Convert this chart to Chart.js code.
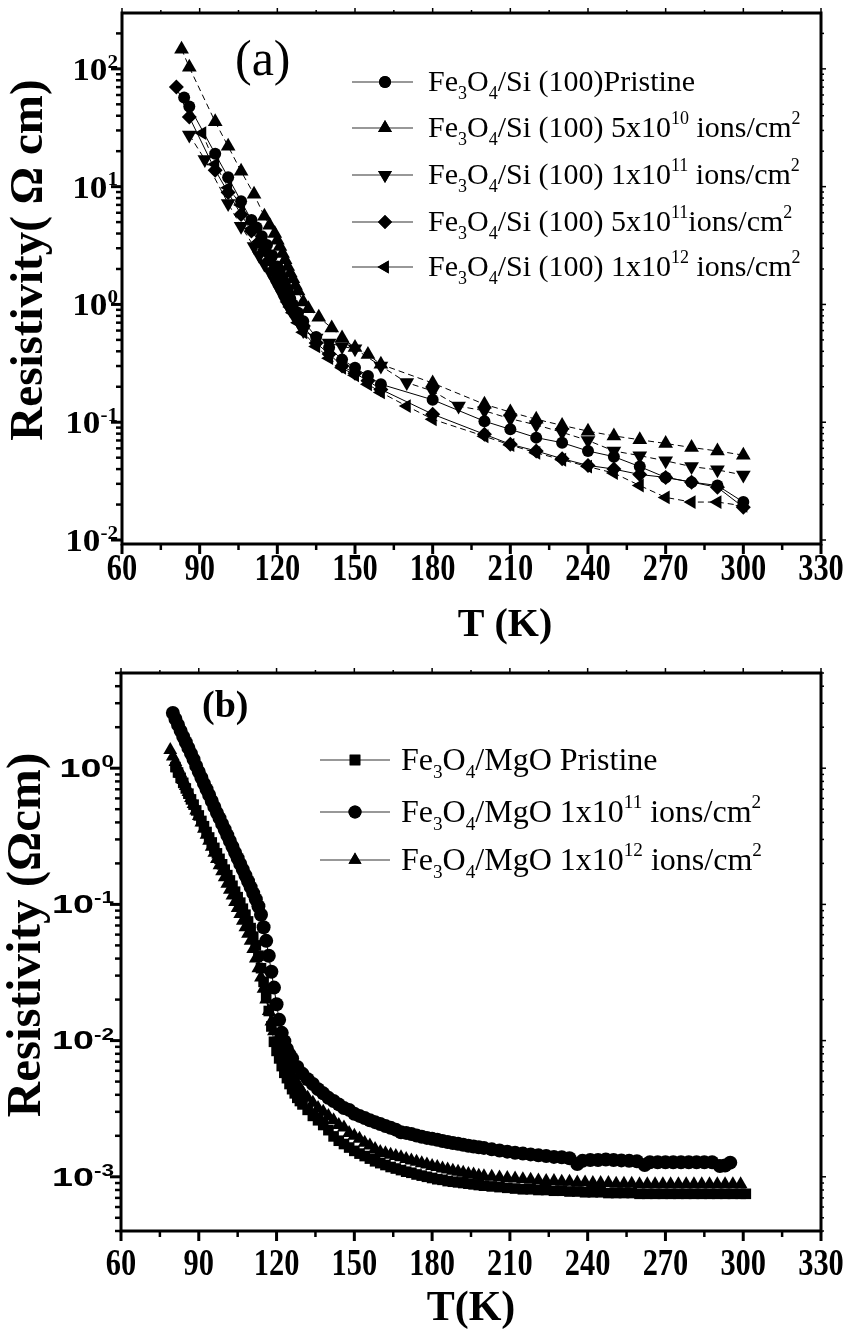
<!DOCTYPE html>
<html>
<head>
<meta charset="utf-8">
<script src="https://cdn.jsdelivr.net/npm/chart.js@4.4.0/dist/chart.umd.min.js"></script>
<style>
  html, body { margin: 0; padding: 0; background: #fff; }
  #wrap { position: relative; width: 845px; height: 1332px; }
  canvas { position: absolute; left: 0; }
</style>
</head>
<body>
<div id="wrap">
  <canvas id="chartA" width="845" height="660" style="top:0;width:845px;height:660px"></canvas>
  <canvas id="chartB" width="845" height="672" style="top:660px;width:845px;height:672px"></canvas>
</div>
<script>
// ---- panel (a): Fe3O4/Si (100), [T (K), resistivity (ohm cm)] ----
const siPristine = [[84,57],[86,48],[96,19],[101,12],[106,7.5],[110,5.2],[112,4.5],[114,3.8],[116,3.2],[118,2.6],[120,2.1],[121,1.85],[122,1.65],[123,1.45],[124,1.28],[125,1.12],[126,1.0],[128,0.85],[130,0.72],[135,0.53],[140,0.43],[145,0.34],[150,0.29],[155,0.247],[160,0.21],[180,0.155],[200,0.102],[210,0.087],[220,0.074],[230,0.067],[240,0.057],[250,0.051],[260,0.042],[270,0.034],[280,0.031],[290,0.029],[300,0.021]];
const si5e10 = [[83,147],[86,103],[96,35.5],[101,22],[106,13.5],[111,8.6],[115,5.6],[117,4.7],[119,4.0],[120,3.5],[121,3.1],[122,2.7],[123,2.4],[124,2.1],[125,1.85],[126,1.65],[127,1.45],[128,1.3],[130,1.05],[132,0.92],[136,0.78],[141,0.63],[145,0.52],[150,0.43],[155,0.375],[160,0.31],[180,0.215],[200,0.142],[210,0.122],[220,0.106],[230,0.094],[240,0.084],[250,0.0765],[260,0.071],[270,0.066],[280,0.061],[290,0.057],[300,0.0525]];
const si1e11 = [[86,27.5],[92,17],[101,7.2],[106,4.6],[111,3.1],[113,2.6],[115,2.2],[117,1.9],[119,1.6],[120,1.45],[121,1.32],[122,1.2],[123,1.08],[124,0.98],[125,0.9],[126,0.83],[128,0.72],[130,0.6],[135,0.52],[140,0.47],[145,0.44],[150,0.42],[160,0.30],[170,0.217],[180,0.184],[190,0.137],[200,0.125],[210,0.107],[220,0.095],[230,0.082],[240,0.07],[250,0.057],[260,0.052],[270,0.047],[280,0.042],[290,0.0394],[300,0.0356]];
const si5e11 = [[81,70],[86,39],[96,13.8],[101,8.9],[106,5.8],[110,4.2],[113,3.4],[115,2.9],[117,2.4],[119,2.0],[120,1.8],[121,1.6],[122,1.45],[123,1.3],[124,1.15],[125,1.02],[126,0.92],[128,0.78],[130,0.66],[135,0.47],[140,0.38],[145,0.30],[150,0.26],[155,0.225],[160,0.19],[180,0.117],[200,0.079],[210,0.065],[220,0.057],[230,0.049],[240,0.043],[250,0.040],[260,0.036],[270,0.034],[280,0.031],[290,0.028],[300,0.019]];
const si1e12 = [[91,28.5],[96,15.5],[101,9.8],[106,7.0],[110,4.4],[113,3.4],[115,2.8],[117,2.3],[119,1.9],[120,1.7],[121,1.5],[122,1.35],[123,1.2],[124,1.05],[125,0.95],[126,0.85],[128,0.7],[130,0.58],[135,0.44],[140,0.35],[145,0.29],[150,0.25],[155,0.21],[160,0.179],[170,0.137],[180,0.106],[200,0.076],[210,0.064],[220,0.055],[230,0.048],[240,0.042],[250,0.037],[260,0.029],[270,0.023],[280,0.021],[290,0.021],[300,0.0195]];

// ---- panel (b): Fe3O4/MgO ----
const mgoPristine = [[81,1.02],[82,0.93],[83,0.85],[84,0.78],[85,0.71],[86,0.65],[87,0.59],[88,0.54],[89,0.49],[90,0.45],[91,0.41],[92,0.375],[93,0.34],[94,0.31],[95,0.285],[96,0.26],[97,0.237],[98,0.216],[99,0.197],[100,0.18],[101,0.164],[102,0.15],[103,0.137],[104,0.124],[105,0.113],[106,0.103],[107,0.093],[108,0.084],[109,0.075],[110,0.067],[111,0.058],[112,0.05],[113,0.042],[114,0.034],[115,0.027],[116,0.021],[117,0.0165],[118,0.0127],[119,0.0098],[120,0.0084],[121,0.0074],[122,0.0065],[123,0.0058],[124,0.0053],[125,0.0048],[126,0.0044],[127,0.0041],[128,0.0038],[129,0.0036],[130,0.0034],[132,0.0031],[134,0.0028],[136,0.0026],[138,0.0024],[140,0.0022],[142,0.00198],[144,0.00184],[146,0.00174],[148,0.00164],[150,0.00155],[152,0.00148],[154,0.00142],[156,0.00136],[158,0.0013],[160,0.00126],[162,0.00122],[164,0.00118],[166,0.00115],[168,0.00112],[170,0.00109],[172,0.00107],[174,0.00104],[176,0.00102],[178,0.001],[180,0.00098],[182,0.00096],[184,0.00095],[186,0.00093],[188,0.00092],[190,0.00091],[192,0.0009],[194,0.00089],[196,0.00088],[198,0.00087],[200,0.00086],[203,0.00085],[206,0.00084],[209,0.00083],[212,0.00082],[215,0.00081],[218,0.00081],[221,0.0008],[224,0.0008],[227,0.00079],[230,0.00079],[233,0.00078],[236,0.00078],[239,0.00077],[242,0.00077],[245,0.00077],[248,0.00076],[251,0.00076],[254,0.00076],[257,0.00076],[260,0.00075],[263,0.00075],[266,0.00075],[269,0.00075],[272,0.00075],[275,0.00075],[278,0.00075],[281,0.00075],[284,0.00075],[287,0.00075],[290,0.00075],[293,0.00075],[296,0.00075],[299,0.00075],[301,0.00075]];
const mgo1e11 = [[80,2.54],[81,2.3],[82,2.08],[83,1.88],[84,1.7],[85,1.55],[86,1.41],[87,1.28],[88,1.16],[89,1.04],[90,0.94],[91,0.85],[92,0.77],[93,0.7],[94,0.635],[95,0.575],[96,0.52],[97,0.47],[98,0.43],[99,0.39],[100,0.355],[101,0.322],[102,0.292],[103,0.265],[104,0.24],[105,0.218],[106,0.198],[107,0.18],[108,0.163],[109,0.148],[110,0.134],[111,0.121],[112,0.109],[113,0.097],[114,0.084],[115,0.068],[116,0.054],[117,0.042],[118,0.032],[119,0.0245],[120,0.0185],[121,0.0142],[122,0.0114],[123,0.0099],[124,0.0087],[125,0.0079],[126,0.0074],[128,0.0064],[130,0.0057],[132,0.0052],[134,0.0048],[136,0.0044],[138,0.0041],[140,0.0038],[142,0.0036],[144,0.0034],[146,0.0032],[148,0.0031],[150,0.0029],[152,0.0028],[154,0.0027],[156,0.0026],[158,0.00252],[160,0.00244],[162,0.00236],[164,0.00229],[166,0.00222],[168,0.00212],[170,0.0021],[172,0.00206],[174,0.00201],[176,0.00197],[178,0.00193],[180,0.0019],[182,0.00187],[184,0.00183],[186,0.0018],[188,0.00177],[190,0.00175],[192,0.00172],[194,0.00169],[196,0.00167],[198,0.00165],[200,0.00163],[203,0.00159],[206,0.00156],[209,0.00153],[212,0.0015],[215,0.00148],[218,0.00146],[221,0.00144],[224,0.00142],[227,0.0014],[230,0.00139],[233,0.00137],[236,0.00124],[238,0.00131],[241,0.00133],[244,0.00133],[247,0.00134],[250,0.00133],[253,0.00132],[256,0.00131],[259,0.0013],[262,0.00122],[264,0.00128],[267,0.00128],[270,0.00128],[273,0.00128],[276,0.00128],[279,0.00128],[282,0.00128],[285,0.00128],[288,0.00128],[291,0.0012],[293,0.00121],[295,0.00127]];
const mgo1e12 = [[79,1.36],[80,1.22],[81,1.11],[82,1.0],[83,0.91],[84,0.82],[85,0.74],[86,0.67],[87,0.605],[88,0.545],[89,0.49],[90,0.445],[91,0.4],[92,0.36],[93,0.325],[94,0.293],[95,0.265],[96,0.239],[97,0.215],[98,0.194],[99,0.175],[100,0.158],[101,0.142],[102,0.128],[103,0.116],[104,0.104],[105,0.094],[106,0.085],[107,0.076],[108,0.068],[109,0.061],[110,0.054],[111,0.047],[112,0.04],[113,0.034],[114,0.029],[115,0.024],[116,0.02],[117,0.0165],[118,0.0138],[119,0.0117],[120,0.01],[121,0.0088],[122,0.0079],[123,0.0072],[124,0.0066],[125,0.006],[126,0.0056],[127,0.0051],[128,0.0048],[129,0.0045],[130,0.0042],[132,0.0038],[134,0.0035],[136,0.0032],[138,0.003],[140,0.0028],[142,0.0026],[144,0.0024],[146,0.0023],[148,0.0021],[150,0.002],[152,0.0019],[154,0.00178],[156,0.0017],[158,0.0016],[160,0.00152],[162,0.00149],[164,0.00145],[166,0.00142],[168,0.00139],[170,0.00135],[172,0.00132],[174,0.00129],[176,0.00126],[178,0.00123],[180,0.0012],[182,0.00118],[184,0.00115],[186,0.00113],[188,0.00111],[190,0.00109],[192,0.00107],[194,0.00105],[196,0.00104],[198,0.00102],[200,0.00101],[203,0.001],[206,0.00099],[209,0.00098],[212,0.00097],[215,0.00096],[218,0.00095],[221,0.00094],[224,0.00093],[227,0.00093],[230,0.00092],[233,0.00092],[236,0.00091],[239,0.00091],[242,0.0009],[245,0.0009],[248,0.0009],[251,0.00089],[254,0.00089],[257,0.00089],[260,0.00088],[263,0.00088],[266,0.00088],[269,0.00088],[272,0.00088],[275,0.00088],[278,0.00088],[281,0.00088],[284,0.00088],[287,0.00088],[290,0.00088],[293,0.00088],[296,0.00088],[299,0.00088]];

const legendA = ['Fe_{3}O_{4}/Si (100)Pristine', 'Fe_{3}O_{4}/Si (100) 5x10^{10} ions/cm^{2}', 'Fe_{3}O_{4}/Si (100) 1x10^{11} ions/cm^{2}', 'Fe_{3}O_{4}/Si (100) 5x10^{11}ions/cm^{2}', 'Fe_{3}O_{4}/Si (100) 1x10^{12} ions/cm^{2}'];
const legendB = ['Fe_{3}O_{4}/MgO Pristine', 'Fe_{3}O_{4}/MgO 1x10^{11} ions/cm^{2}', 'Fe_{3}O_{4}/MgO 1x10^{12} ions/cm^{2}'];
const xTicks = [60, 90, 120, 150, 180, 210, 240, 270, 300, 330];

const SERIF = '"Liberation Serif", "Times New Roman", serif';
const SANS = '"Liberation Sans", Arial, sans-serif';

// marker looks
const M = {
    circle: { pointStyle: 'circle', rotation: 0 },
    up: { pointStyle: 'triangle', rotation: 0 },
    down: { pointStyle: 'triangle', rotation: 180 },
    diamond: { pointStyle: 'rectRot', rotation: 0 },
    left: { pointStyle: 'triangle', rotation: 270 },
    square: { pointStyle: 'rect', rotation: 0 }
};

function toXY(rows) {
    return rows.map(r => ({ x: r[0], y: r[1] }));
}

function series(rows, mk, radius, dash) {
    return {
        data: toXY(rows),
        showLine: true,
        borderColor: '#000',
        borderWidth: 1,
        borderDash: dash || [],
        pointStyle: mk.pointStyle,
        pointRotation: mk.rotation,
        pointRadius: radius,
        pointBackgroundColor: '#000',
        pointBorderWidth: 0,
        pointBorderColor: '#000',
        clip: 8
    };
}

// "Fe_{3}O_{4}" -> pieces with sub / sup
function parseRich(s) {
    const parts = [];
    const re = /([_^])\{([^}]*)\}|([^_^]+)/g;
    let m;
    while ((m = re.exec(s))) {
        if (m[3]) parts.push({ t: m[3], k: 0 });
        else parts.push({ t: m[2], k: m[1] === '_' ? -1 : 1 });
    }
    return parts;
}

function drawRich(ctx, s, x, y, size, weight, family) {
    let cx = x;
    parseRich(s).forEach(p => {
        const fs = p.k ? size * 0.6 : size;
        const dy = p.k === -1 ? size * 0.26 : (p.k === 1 ? -size * 0.42 : 0);
        ctx.font = `${weight} ${fs}px ${family}`;
        ctx.fillText(p.t, cx, y + dy);
        cx += ctx.measureText(p.t).width;
    });
}

function marker(ctx, mk, r, x, y) {
    ctx.beginPath();
    Chart.helpers.drawPoint(ctx, { pointStyle: mk.pointStyle, rotation: mk.rotation, radius: r, borderWidth: 0 }, x, y);
    ctx.fill();
}

// frame, ticks, labels, titles and legend, drawn on top of the chart
const paperPlugin = {
    id: 'paper',
    afterDraw(chart, args, o) {
        const ctx = chart.ctx;
        const a = chart.chartArea;
        const xs = chart.scales.x;
        const ys = chart.scales.y;
        const seg = (x1, y1, x2, y2, w) => {
            ctx.lineWidth = w;
            ctx.beginPath(); ctx.moveTo(x1, y1); ctx.lineTo(x2, y2); ctx.stroke();
        };
        ctx.save();
        ctx.strokeStyle = '#000';
        ctx.fillStyle = '#000';
        ctx.lineCap = 'butt';

        // x ticks (every 15 K, labelled every 30 K)
        xs.ticks.forEach(t => {
            const px = xs.getPixelForValue(t.value);
            const major = t.value % 30 === 0;
            seg(px, a.bottom, px, a.bottom + (major ? 10 : 6), major ? 3 : 2.5);
            seg(px, a.top, px, a.top - (major ? 5 : 3), 1.5);
        });
        // y ticks (log: 1..9 x 10^n)
        ys.ticks.forEach(t => {
            const v = t.value;
            const e = Math.floor(Math.log10(v) + 1e-9);
            const sig = v / Math.pow(10, e);
            if (Math.abs(sig - Math.round(sig)) > 1e-6) return;
            const py = ys.getPixelForValue(v);
            const major = Math.round(sig) === 1;
            seg(a.left, py, a.left - (major ? 11 : 6), py, major ? 3 : 2.5);
            seg(a.right, py, a.right + (major ? 5 : 3), py, 1.5);
        });
        // frame
        ctx.lineWidth = 3;
        ctx.strokeRect(a.left, a.top, a.right - a.left, a.bottom - a.top);

        // x tick labels
        ctx.font = `bold ${o.xFont}px ${SERIF}`;
        ctx.textAlign = 'center';
        ctx.textBaseline = 'alphabetic';
        xTicks.forEach(v => {
            const px = xs.getPixelForValue(v);
            ctx.save();
            ctx.translate(px, o.xLabelY);
            ctx.scale(o.xScaleX, 1);
            ctx.fillText(String(v), 0, 0);
            ctx.restore();
        });

        // y tick labels: 10 with superscript exponent
        for (let e = o.expMin; e <= o.expMax; e++) {
            const py = ys.getPixelForValue(Math.pow(10, e));
            const ex = String(e);
            ctx.save();
            ctx.textAlign = 'left';
            ctx.font = `bold ${o.yFont * 0.6}px ${o.yFamily}`;
            const ew = ctx.measureText(ex).width * o.yScaleX;
            ctx.font = `bold ${o.yFont}px ${o.yFamily}`;
            const bw = ctx.measureText('10').width * o.yScaleX;
            const x0 = o.yLabelRight - ew - bw;
            ctx.translate(x0, py + o.yFont * 0.34);
            ctx.scale(o.yScaleX, 1);
            ctx.fillText('10', 0, 0);
            ctx.font = `bold ${o.yFont * 0.6}px ${o.yFamily}`;
            ctx.fillText(ex, bw / o.yScaleX, -o.yFont * 0.38);
            ctx.restore();
        }

        // axis titles
        ctx.textAlign = 'center';
        ctx.font = `bold ${o.xTitleFont}px ${SERIF}`;
        ctx.fillText(o.xTitle, o.xTitleX, o.xTitleY);
        ctx.save();
        ctx.translate(o.yTitleX, o.yTitleY);
        ctx.rotate(-Math.PI / 2);
        ctx.textBaseline = 'middle';
        ctx.font = `bold ${o.yTitleFont}px ${SERIF}`;
        ctx.fillText(o.yTitle, 0, 0);
        ctx.restore();

        // panel tag
        ctx.textAlign = 'left';
        ctx.font = `${o.tagWeight} ${o.tagFont}px ${SERIF}`;
        ctx.fillText(o.tag, o.tagX, o.tagY);

        // legend
        const lg = o.legend;
        lg.labels.forEach((lab, i) => {
            const y = lg.rows[i];
            ctx.strokeStyle = '#333';
            seg(lg.x1, y, lg.x2, y, 1.2);
            ctx.strokeStyle = '#000';
            marker(ctx, lg.marks[i], lg.radius[i], lg.mx, y);
            drawRich(ctx, lab, lg.tx, y + lg.font * 0.3, lg.font, 'normal', SERIF);
        });
        ctx.restore();
    }
};

function makeChart(id, datasets, yMin, yMax, xHeight, yWidth, paper) {
    return new Chart(document.getElementById(id), {
        type: 'scatter',
        data: { datasets: datasets },
        options: {
            responsive: false,
            animation: false,
            events: [],
            layout: { padding: { left: 0, right: 24, top: 13, bottom: 0 } },
            plugins: { legend: { display: false }, tooltip: { enabled: false }, paper: paper },
            scales: {
                x: {
                    type: 'linear', min: 60, max: 330,
                    ticks: { stepSize: 15, display: false },
                    grid: { display: false }, border: { display: false },
                    afterFit: s => { s.height = xHeight; }
                },
                y: {
                    type: 'logarithmic', min: yMin, max: yMax,
                    ticks: { display: false },
                    grid: { display: false }, border: { display: false },
                    afterFit: s => { s.width = yWidth; }
                }
            }
        },
        plugins: [paperPlugin]
    });
}

makeChart('chartA', [
    series(siPristine, M.circle, 6),
    series(si5e10, M.up, 8.5, [6, 4]),
    series(si1e11, M.down, 8.5, [6, 4]),
    series(si5e11, M.diamond, 7.5),
    series(si1e12, M.left, 8, [6, 4])
], 0.00925, 298, 116, 122, {
    xFont: 38, xScaleX: 0.8, xLabelY: 580,
    yFont: 32, yScaleX: 1.1, yFamily: SERIF, yLabelRight: 118, expMin: -2, expMax: 2,
    xTitle: 'T (K)', xTitleFont: 40, xTitleX: 505, xTitleY: 636,
    yTitle: 'Resistivity( \u03A9 cm)', yTitleFont: 47, yTitleX: 30, yTitleY: 260,
    tag: '(a)', tagFont: 50, tagWeight: 'normal', tagX: 235, tagY: 75,
    legend: {
        labels: legendA, rows: [82, 128, 175, 222, 267], x1: 352, x2: 413, mx: 385, tx: 428, font: 30,
        marks: [M.circle, M.up, M.down, M.diamond, M.left], radius: [6, 8, 8, 7, 7.5]
    }
});

makeChart('chartB', [
    series(mgoPristine, M.square, 7.5),
    series(mgo1e11, M.circle, 7),
    series(mgo1e12, M.up, 8)
], 0.0004, 5.0, 101, 121, {
    xFont: 38, xScaleX: 0.8, xLabelY: 615,
    yFont: 26, yScaleX: 1.45, yFamily: SANS, yLabelRight: 114, expMin: -3, expMax: 0,
    xTitle: 'T(K)', xTitleFont: 42, xTitleX: 471, xTitleY: 660,
    yTitle: 'Resistivity (\u03A9cm)', yTitleFont: 49, yTitleX: 27, yTitleY: 275,
    tag: '(b)', tagFont: 38, tagWeight: 'bold', tagX: 202, tagY: 57,
    legend: {
        labels: legendB, rows: [100, 152, 200], x1: 320, x2: 390, mx: 355, tx: 401, font: 32,
        marks: [M.square, M.circle, M.up], radius: [7.5, 6.5, 7.5]
    }
});
</script>
</body>
</html>
